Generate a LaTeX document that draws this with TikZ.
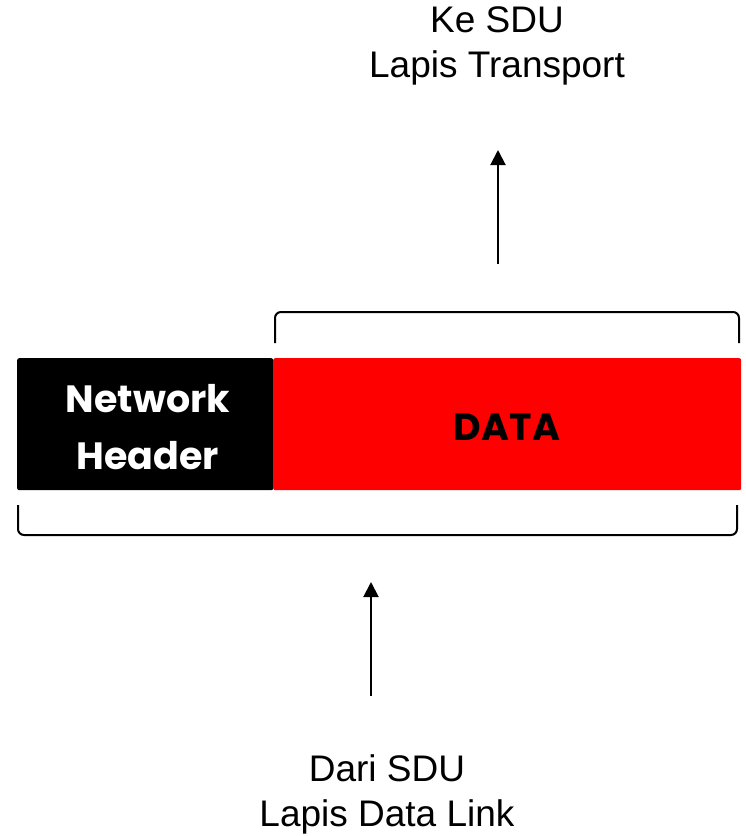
\documentclass[tikz,border=0pt]{standalone}
\usepackage{fontspec}
\setmainfont{Liberation Sans}
\newfontfamily\boxfont{Poppins}[UprightFont=* Bold]
\usetikzlibrary{arrows.meta}
\begin{document}
\begin{tikzpicture}[x=1pt,y=-1pt,
  lbl/.style={font=\fontsize{37}{45}\selectfont, align=center, inner sep=0pt},
  seg/.style={draw=none, inner sep=0pt, rounded corners=2pt, anchor=north west},
  segtext/.style={font=\boxfont\fontsize{38}{57}\selectfont, align=center, inner sep=0pt},
  brk/.style={line width=2pt, rounded corners=6pt},
  arr/.style={line width=2pt, -{Triangle[length=15pt,width=15pt]}}]
\useasboundingbox (0,0) rectangle (746,836);
\node[seg, fill=black, minimum width=256pt, minimum height=132pt] (hdr) at (17,358) {};
\node[seg, fill=red, minimum width=468pt, minimum height=132pt] (data) at (273,358) {};
\node[segtext, text=white] (hdrtxt) at (148,427) {Network\\Header};
\node[segtext, text=black] (datatxt) at (507,427) {DATA};
\draw[brk] (275,343) -- (275,312) -- (739,312) -- (739,343);
\draw[brk] (18,505) -- (18,535) -- (737,535) -- (737,505);
\node[lbl] (top) at (497,46) {Ke SDU\\Lapis Transport};
\node[lbl] (bot) at (387,794) {Dari SDU\\Lapis Data Link};
\coordinate (ta) at (498,264);
\coordinate (tb) at (498,150);
\coordinate (ba) at (371,696);
\coordinate (bb) at (371,582);
\draw[arr] (ta) -- (tb);
\draw[arr] (ba) -- (bb);
\end{tikzpicture}
\end{document}
